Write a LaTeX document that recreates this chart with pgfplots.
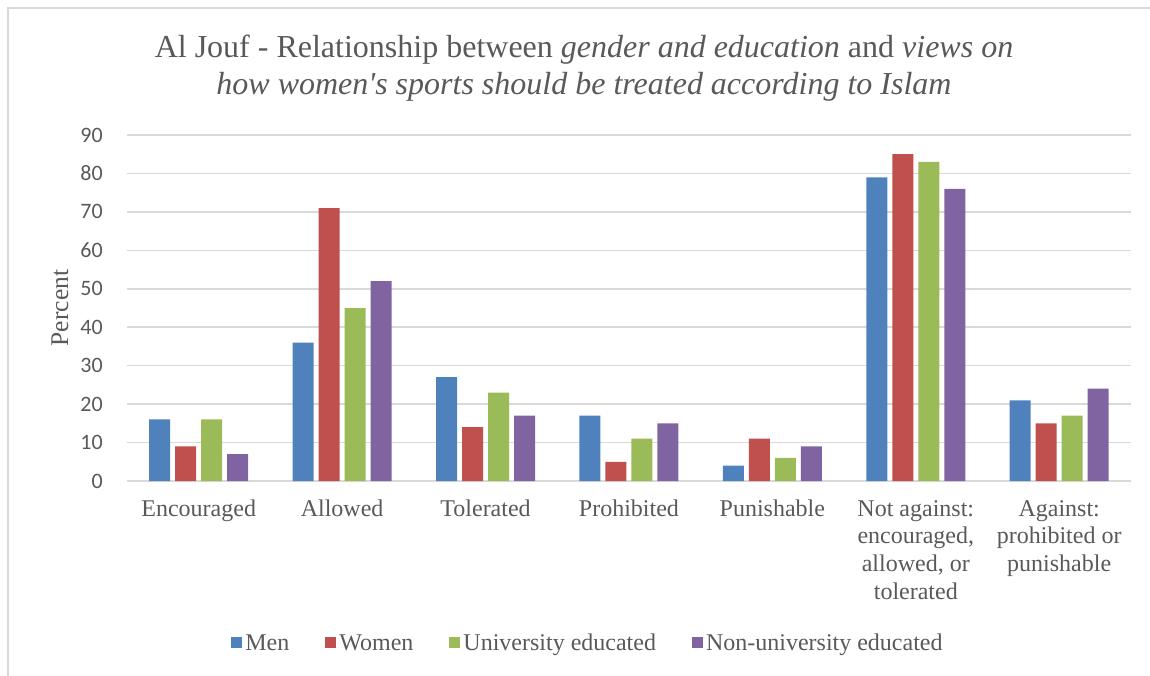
\documentclass[border=0pt]{standalone}
\usepackage{pgfplots}
\pgfplotsset{compat=1.18}
\usepackage{fontspec}
\setmainfont{Liberation Serif}
\newfontfamily\carlito{Carlito}
\definecolor{txt}{HTML}{595959}
\definecolor{gridc}{HTML}{D9D9D9}
\definecolor{cMen}{HTML}{4F81BD}
\definecolor{cWomen}{HTML}{C0504D}
\definecolor{cUni}{HTML}{9BBB59}
\definecolor{cNon}{HTML}{8064A2}
\begin{document}
\begin{tikzpicture}[x=1pt,y=1pt]
\begin{axis}[
  at={(127pt,194pt)}, anchor=south west,
  scale only axis, width=1004pt, height=346pt,
  ybar=5pt, bar width=21pt,
  xmin=-0.5, xmax=6.5, ymin=0, ymax=90,
  xtick={0,1,2,3,4,5,6},
  xticklabels={Encouraged, Allowed, Tolerated, Prohibited, Punishable, {Not against:\\encouraged,\\allowed, or\\tolerated}, {Against:\\prohibited or\\punishable}},
  ytick={0,10,...,90},
  axis line style={draw=none},
  major tick length=0pt,
  ymajorgrids, grid style={gridc, line width=1.5pt},
  xticklabel style={font=\fontsize{24}{27.7}\selectfont, text=txt, align=center, inner sep=0pt, yshift=-19pt},
  yticklabel style={font=\carlito\fontsize{22}{26}\selectfont, text=txt, inner sep=0pt, xshift=-24pt},
  /pgf/number format/assume math mode=true,
  legend columns=4,
  legend style={draw=none, fill=none, at={(0.4597,-0.468)}, anchor=center,
    font=\fontsize{24}{28}\selectfont, text=txt,
    /tikz/every even column/.append style={column sep=32pt},
    nodes={inner sep=3.5pt}},
  every axis plot post/.append style={legend image code/.code={\fill[##1] (0pt,-5.5pt) rectangle (11pt,5.5pt);}},
]
\addplot[fill=cMen, draw=none] coordinates {(0,16) (1,36) (2,27) (3,17) (4,4) (5,79) (6,21)};
\addplot[fill=cWomen, draw=none] coordinates {(0,9) (1,71) (2,14) (3,5) (4,11) (5,85) (6,15)};
\addplot[fill=cUni, draw=none] coordinates {(0,16) (1,45) (2,23) (3,11) (4,6) (5,83) (6,17)};
\addplot[fill=cNon, draw=none] coordinates {(0,7) (1,52) (2,17) (3,15) (4,9) (5,76) (6,24)};
\legend{Men, Women, University educated, Non-university educated}
\end{axis}
\node[rotate=90, text=txt, font=\fontsize{25.5}{30}\selectfont] at (60pt,367pt) {Percent};
\node[anchor=base, text=txt, font=\fontsize{32}{38}\selectfont] at (584pt,617pt) {Al Jouf - Relationship between \textit{gender and education} and \textit{views on}};
\node[anchor=base, text=txt, font=\fontsize{32}{38}\selectfont] at (584pt,580pt) {\textit{how women\textquotesingle s sports should be treated according to Islam}};
\draw[gridc, line width=1.5pt] (8pt,-5pt) -- (8pt,667pt) -- (1160pt,667pt);
\pgfresetboundingbox
\path (0pt,0pt) rectangle (1150pt,675pt);
\end{tikzpicture}
\end{document}
